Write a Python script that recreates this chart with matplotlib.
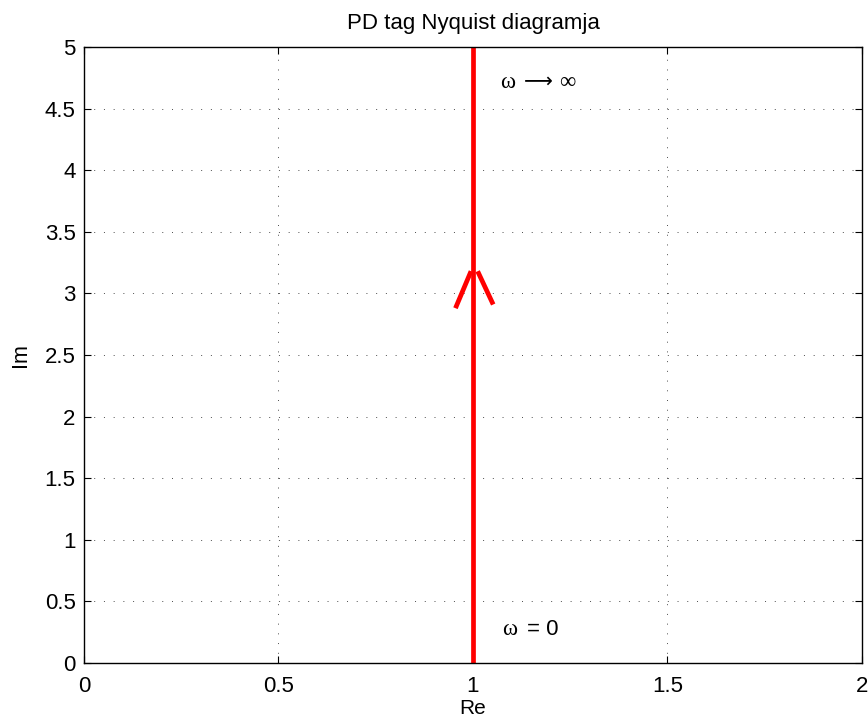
import matplotlib
matplotlib.use("Agg")
import matplotlib.pyplot as plt

# Nyquist plot of a PD controller: Re = 1, Im goes from 0 to infinity
re_line = [1.0, 1.0]
im_line = [0.0, 5.0]

# arrow head arms
arm_left_re = [0.955, 0.995]
arm_left_im = [2.88, 3.18]
arm_right_re = [1.012, 1.052]
arm_right_im = [3.18, 2.91]

x_ticks = [0, 0.5, 1, 1.5, 2]
x_tick_labels = ['0', '0.5', '1', '1.5', '2']
y_ticks = [0, 0.5, 1, 1.5, 2, 2.5, 3, 3.5, 4, 4.5, 5]
y_tick_labels = ['0', '0.5', '1', '1.5', '2', '2.5', '3', '3.5', '4', '4.5', '5']

plt.rcParams['font.family'] = ['Liberation Sans', 'DejaVu Sans']
serif = ['Liberation Serif', 'DejaVu Serif']

fig = plt.figure(figsize=(8.68, 7.22), dpi=100)
ax = fig.add_axes([0.0968, 0.0817, 0.8962, 0.8532])

ax.plot(re_line, im_line, color='red', lw=3.4, solid_capstyle='butt')
ax.plot(arm_left_re, arm_left_im, color='red', lw=3.4, solid_capstyle='butt')
ax.plot(arm_right_re, arm_right_im, color='red', lw=3.4, solid_capstyle='butt')

# annotations: omega in a serif face, "= 0" in sans like the original
ax.text(1.069, 4.665, '\u03c9', family=serif, fontsize=16.5, va='baseline', ha='left')
ax.text(1.132, 4.68, '\u27f6', family=['DejaVu Sans'], fontsize=14.5, va='baseline', ha='left')
ax.text(1.222, 4.665, '\u221e', family=serif, fontsize=16.5, va='baseline', ha='left')
ax.text(1.0746, 0.227, '\u03c9', family=serif, fontsize=16.5, va='baseline', ha='left')
ax.text(1.14, 0.227, '= 0', fontsize=16, va='baseline', ha='left')

ax.set_xlim(0, 2)
ax.set_ylim(0, 5)
ax.set_xticks(x_ticks)
ax.set_xticklabels(x_tick_labels)
ax.set_yticks(y_ticks)
ax.set_yticklabels(y_tick_labels)
ax.tick_params(direction='in', labelsize=16, length=5, top=True, right=True)
ax.tick_params(axis='x', pad=9)
ax.tick_params(axis='y', pad=6)
ax.grid(True, linestyle=(0, (1, 9)), color='black', lw=0.7, alpha=0.7)
for s in ax.spines.values():
    s.set_linewidth(1.0)

ax.set_xlabel('Re', fontsize=15, labelpad=2)
ax.set_ylabel('Im', fontsize=15.5, labelpad=10)
ax.set_title('PD tag Nyquist diagramja', fontsize=16, pad=13)

fig.savefig('out.png', dpi=100)
